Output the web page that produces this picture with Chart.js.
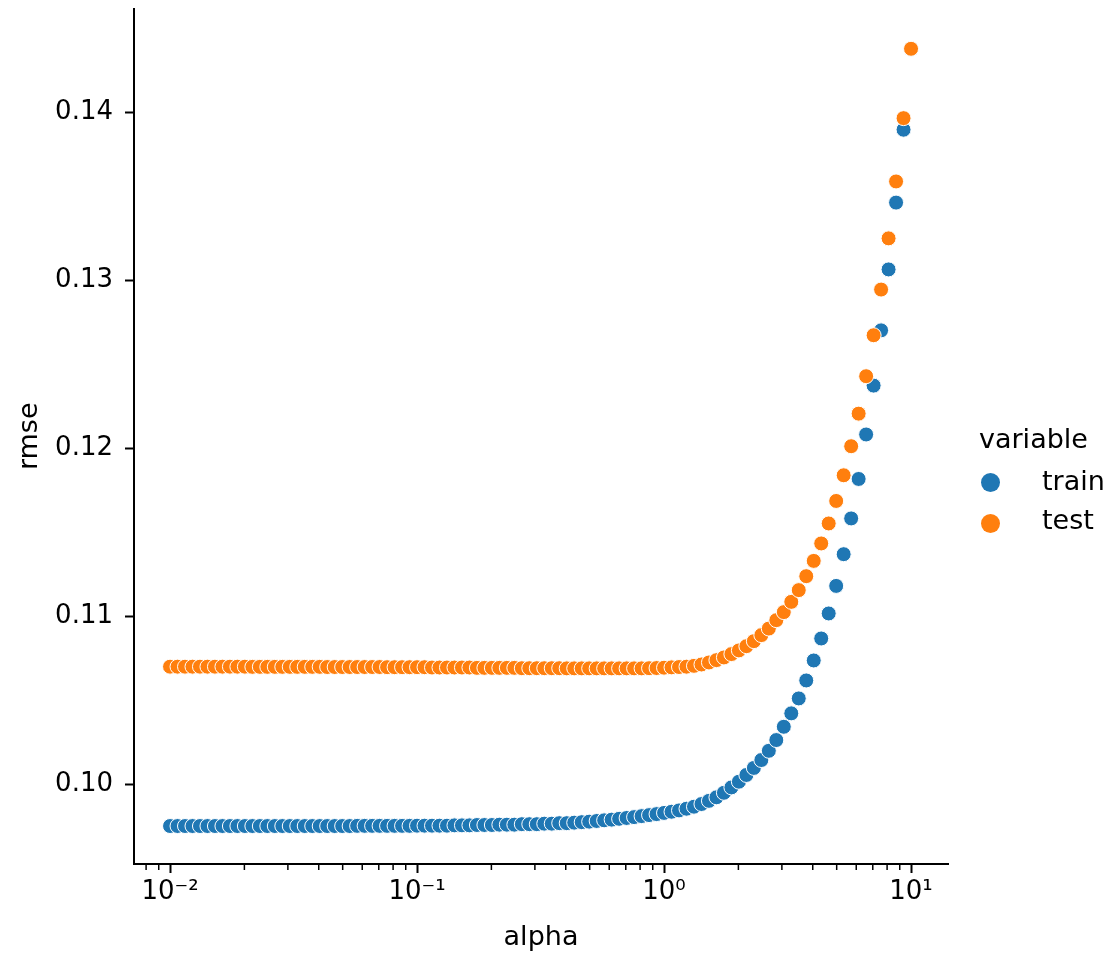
<!DOCTYPE html>
<html>
<head>
<meta charset="utf-8">
<script src="https://cdn.jsdelivr.net/npm/chart.js@4.4.0/dist/chart.umd.min.js"></script>
<style>
  body { margin: 0; background: #fff; }
  #wrap { position: relative; width: 1112px; height: 957px; font-family: "DejaVu Sans", sans-serif; }
  .leg { position: absolute; font-size: 27px; line-height: 27px; color: #000; white-space: nowrap; }
  .dot { position: absolute; width: 19px; height: 19px; border-radius: 50%; }
</style>
</head>
<body>
<div id="wrap">
  <canvas id="scatter-chart" width="1112" height="957"></canvas>
  <div class="leg" style="left:979px; top:425px;">variable</div>
  <div class="dot" style="left:981px; top:473px; background:#1f77b4;"></div>
  <div class="leg" style="left:1042px; top:467px;">train</div>
  <div class="dot" style="left:981px; top:514px; background:#ff7f0e;"></div>
  <div class="leg" style="left:1042px; top:506px;">test</div>
</div>
<script>
// alpha grid (log spaced, 0.01 .. 10)
var alphas = [
  0.01, 0.010723, 0.011498, 0.012328, 0.013219, 0.014175, 0.015199, 0.016298, 0.017475, 0.018738,
  0.020092, 0.021544, 0.023101, 0.024771, 0.026561, 0.028480, 0.030539, 0.032745, 0.035112, 0.037649,
  0.040370, 0.043288, 0.046416, 0.049770, 0.053367, 0.057224, 0.061359, 0.065793, 0.070548, 0.075646,
  0.081113, 0.086975, 0.093260,
  0.1, 0.10723, 0.11498, 0.12328, 0.13219, 0.14175, 0.15199, 0.16298, 0.17475, 0.18738,
  0.20092, 0.21544, 0.23101, 0.24771, 0.26561, 0.28480, 0.30539, 0.32745, 0.35112, 0.37649,
  0.40370, 0.43288, 0.46416, 0.49770, 0.53367, 0.57224, 0.61359, 0.65793, 0.70548, 0.75646,
  0.81113, 0.86975, 0.93260,
  1, 1.0723, 1.1498, 1.2328, 1.3219, 1.4175, 1.5199, 1.6298, 1.7475, 1.8738,
  2.0092, 2.1544, 2.3101, 2.4771, 2.6561, 2.8480, 3.0539, 3.2745, 3.5112, 3.7649,
  4.0370, 4.3288, 4.6416, 4.9770, 5.3367, 5.7224, 6.1359, 6.5793, 7.0548, 7.5646,
  8.1113, 8.6975, 9.3260,
  10
];

var rmseTrain = [
  0.09750, 0.09750, 0.09750, 0.09750, 0.09750, 0.09750, 0.09750, 0.09750, 0.09750, 0.09750,
  0.09750, 0.09750, 0.09750, 0.09750, 0.09750, 0.09750, 0.09750, 0.09750, 0.09750, 0.09750,
  0.09750, 0.09750, 0.09750, 0.09750, 0.09750, 0.09751, 0.09751, 0.09751, 0.09751, 0.09751,
  0.09751, 0.09751, 0.09751, 0.09752, 0.09752, 0.09752, 0.09752, 0.09752, 0.09754, 0.09754,
  0.09754, 0.09756, 0.09756, 0.09756, 0.09758, 0.09758, 0.09758, 0.09761, 0.09761, 0.09761,
  0.09764, 0.09764, 0.09767, 0.09767, 0.09770, 0.09773, 0.09776, 0.09780, 0.09784, 0.09788,
  0.09793, 0.09798, 0.09803, 0.09809, 0.09815, 0.09821, 0.09828, 0.09835, 0.09843, 0.09853,
  0.09865, 0.09881, 0.09900, 0.09921, 0.09948, 0.09980, 0.10014, 0.10054, 0.10096, 0.10143,
  0.10198, 0.10262, 0.10341, 0.10421, 0.10510, 0.10617, 0.10736, 0.10867, 0.11016, 0.11180,
  0.11369, 0.11582, 0.11817, 0.12082, 0.12373, 0.12702, 0.13065, 0.13463, 0.13897, 0.14378
];

var rmseTest = [
  0.10699, 0.10699, 0.10699, 0.10699, 0.10699, 0.10699, 0.10699, 0.10699, 0.10699, 0.10699,
  0.10699, 0.10698, 0.10698, 0.10698, 0.10698, 0.10698, 0.10698, 0.10698, 0.10698, 0.10698,
  0.10698, 0.10697, 0.10697, 0.10697, 0.10697, 0.10697, 0.10697, 0.10697, 0.10697, 0.10696,
  0.10696, 0.10696, 0.10696, 0.10696, 0.10696, 0.10694, 0.10694, 0.10694, 0.10694, 0.10694,
  0.10694, 0.10692, 0.10692, 0.10692, 0.10692, 0.10692, 0.10692, 0.10690, 0.10690, 0.10690,
  0.10690, 0.10690, 0.10690, 0.10689, 0.10689, 0.10689, 0.10689, 0.10689, 0.10689, 0.10689,
  0.10689, 0.10689, 0.10689, 0.10689, 0.10690, 0.10691, 0.10693, 0.10695, 0.10697, 0.10699,
  0.10704, 0.10712, 0.10724, 0.10738, 0.10754, 0.10774, 0.10796, 0.10821, 0.10851, 0.10887,
  0.10926, 0.10976, 0.11024, 0.11085, 0.11155, 0.11238, 0.11329, 0.11433, 0.11552, 0.11686,
  0.11839, 0.12012, 0.12206, 0.12429, 0.12673, 0.12945, 0.13250, 0.13589, 0.13966, 0.14379
];

var xMajor = [0.01, 0.1, 1, 10];
var xMajorLabels = ['10\u207B\u00B2', '10\u207B\u00B9', '10\u2070', '10\u00B9'];
var xMinor = [0.008, 0.009, 0.02, 0.03, 0.04, 0.05, 0.06, 0.07, 0.08, 0.09,
              0.2, 0.3, 0.4, 0.5, 0.6, 0.7, 0.8, 0.9, 2, 3, 4, 5, 6, 7, 8, 9];
var yTicks = [0.10, 0.11, 0.12, 0.13, 0.14];

function pairs(xs, ys) {
  return xs.map(function(x, i) { return { x: x, y: ys[i] }; });
}

// short minor ticks on the log axis (matplotlib style)
var minorTicks = {
  id: 'minorTicks',
  afterDraw: function(chart) {
    var sx = chart.scales.x;
    var ctx = chart.ctx;
    ctx.save();
    ctx.strokeStyle = '#000';
    ctx.lineWidth = 1.5;
    xMinor.forEach(function(v) {
      if (v < sx.min || v > sx.max) return;
      var px = sx.getPixelForValue(v);
      ctx.beginPath();
      ctx.moveTo(px, sx.top);
      ctx.lineTo(px, sx.top + 6);
      ctx.stroke();
    });
    ctx.restore();
  }
};

Chart.defaults.font.family = '"DejaVu Sans", sans-serif';
Chart.defaults.color = '#000';

new Chart(document.getElementById('scatter-chart'), {
  type: 'scatter',
  data: {
    datasets: [{
      label: 'train',
      data: pairs(alphas, rmseTrain),
      backgroundColor: '#1f77b4',
      borderColor: '#ffffff',
      borderWidth: 1,
      pointRadius: 7.5,
      order: 2
    }, {
      label: 'test',
      data: pairs(alphas, rmseTest),
      backgroundColor: '#ff7f0e',
      borderColor: '#ffffff',
      borderWidth: 1,
      pointRadius: 7.5,
      order: 1
    }]
  },
  options: {
    responsive: false,
    animation: false,
    devicePixelRatio: 1,
    layout: { padding: { top: 8, right: 164, left: 0, bottom: 0 } },
    plugins: {
      legend: { display: false },
      tooltip: { enabled: false }
    },
    scales: {
      x: {
        type: 'logarithmic',
        min: 0.007147,
        max: 14.114,
        afterBuildTicks: function(scale) {
          scale.ticks = xMajor.map(function(v) { return { value: v, major: true }; });
        },
        afterFit: function(scale) {
          scale.height = 93;
          scale.paddingLeft = 0;
          scale.paddingRight = 0;
        },
        ticks: {
          autoSkip: false,
          maxRotation: 0,
          padding: 4,
          font: { size: 26 },
          callback: function(value) {
            var i = xMajor.indexOf(value);
            return i >= 0 ? xMajorLabels[i] : '';
          }
        },
        grid: { drawOnChartArea: false, tickLength: 9, tickWidth: 2, tickColor: '#000' },
        border: { display: true, color: '#000', width: 2 },
        title: { display: true, text: 'alpha', font: { size: 27 }, padding: { top: 0, bottom: 3 } }
      },
      y: {
        min: 0.095238,
        max: 0.146190,
        afterBuildTicks: function(scale) {
          scale.ticks = yTicks.map(function(v) { return { value: v }; });
        },
        afterFit: function(scale) {
          scale.width = 134;
          scale.paddingTop = 0;
          scale.paddingBottom = 0;
        },
        ticks: {
          padding: 12,
          font: { size: 26 },
          callback: function(value) { return value.toFixed(2); }
        },
        grid: { drawOnChartArea: false, tickLength: 9, tickWidth: 2, tickColor: '#000' },
        border: { display: true, color: '#000', width: 2 },
        title: { display: true, text: 'rmse', font: { size: 27 }, padding: { top: 14, bottom: 0 } }
      }
    }
  },
  plugins: [minorTicks]
});
</script>
</body>
</html>
